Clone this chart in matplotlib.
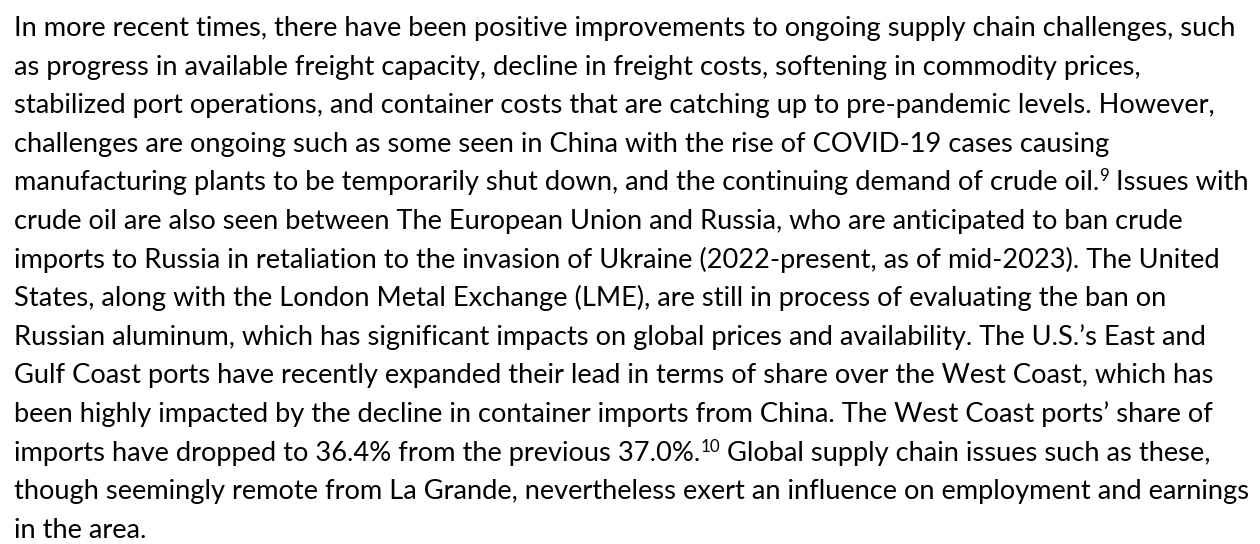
"""Paragraph of body text rendered as a figure."""

import matplotlib
matplotlib.use("Agg")
import matplotlib.pyplot as plt

# text of the paragraph, one entry per printed line; "^n^" marks a superscript note
PARAGRAPH_LINES = [
    "In more recent times, there have been positive improvements to ongoing supply chain challenges, such",
    "as progress in available freight capacity, decline in freight costs, softening in commodity prices,",
    "stabilized port operations, and container costs that are catching up to pre-pandemic levels. However,",
    "challenges are ongoing such as some seen in China with the rise of COVID-19 cases causing",
    "manufacturing plants to be temporarily shut down, and the continuing demand of crude oil.^9^ Issues with",
    "crude oil are also seen between The European Union and Russia, who are anticipated to ban crude",
    "imports to Russia in retaliation to the invasion of Ukraine (2022-present, as of mid-2023). The United",
    "States, along with the London Metal Exchange (LME), are still in process of evaluating the ban on",
    "Russian aluminum, which has significant impacts on global prices and availability. The U.S.\u2019s East and",
    "Gulf Coast ports have recently expanded their lead in terms of share over the West Coast, which has",
    "been highly impacted by the decline in container imports from China. The West Coast ports\u2019 share of",
    "imports have dropped to 36.4% from the previous 37.0%.^10^ Global supply chain issues such as these,",
    "though seemingly remote from La Grande, nevertheless exert an influence on employment and earnings",
    "in the area.",
]

W, H = 1260, 544
LEFT = 14
FIRST_BASELINE = 36
LINE_STEP = 38.6
FIRST_LINE_RIGHT = 1238
FAMILY = ["Lato", "DejaVu Sans"]


def px(x, y):
    return x / W, 1 - y / H


def main() -> None:
    fig = plt.figure(figsize=(W / 100, H / 100), dpi=100)
    fig.patch.set_facecolor("white")
    renderer = fig.canvas.get_renderer()

    # fit the body size so the first line spans the same width as the source
    probe = fig.text(*px(LEFT, FIRST_BASELINE), PARAGRAPH_LINES[0], fontsize=18, family=FAMILY)
    width = probe.get_window_extent(renderer).width
    size = 18 * (FIRST_LINE_RIGHT - LEFT) / width
    probe.remove()

    for i, line in enumerate(PARAGRAPH_LINES):
        base = FIRST_BASELINE + i * LINE_STEP
        x = LEFT
        for j, part in enumerate(line.split("^")):
            if not part:
                continue
            sup = j % 2 == 1
            y = base - size * 100 / 72 * 0.33 if sup else base
            t = fig.text(*px(x, y), part, fontsize=size * 0.62 if sup else size,
                         family=FAMILY, color="black", va="baseline", ha="left")
            x = t.get_window_extent(renderer).x1

    fig.savefig("out.png", dpi=100, facecolor="white")


if __name__ == "__main__":
    main()
